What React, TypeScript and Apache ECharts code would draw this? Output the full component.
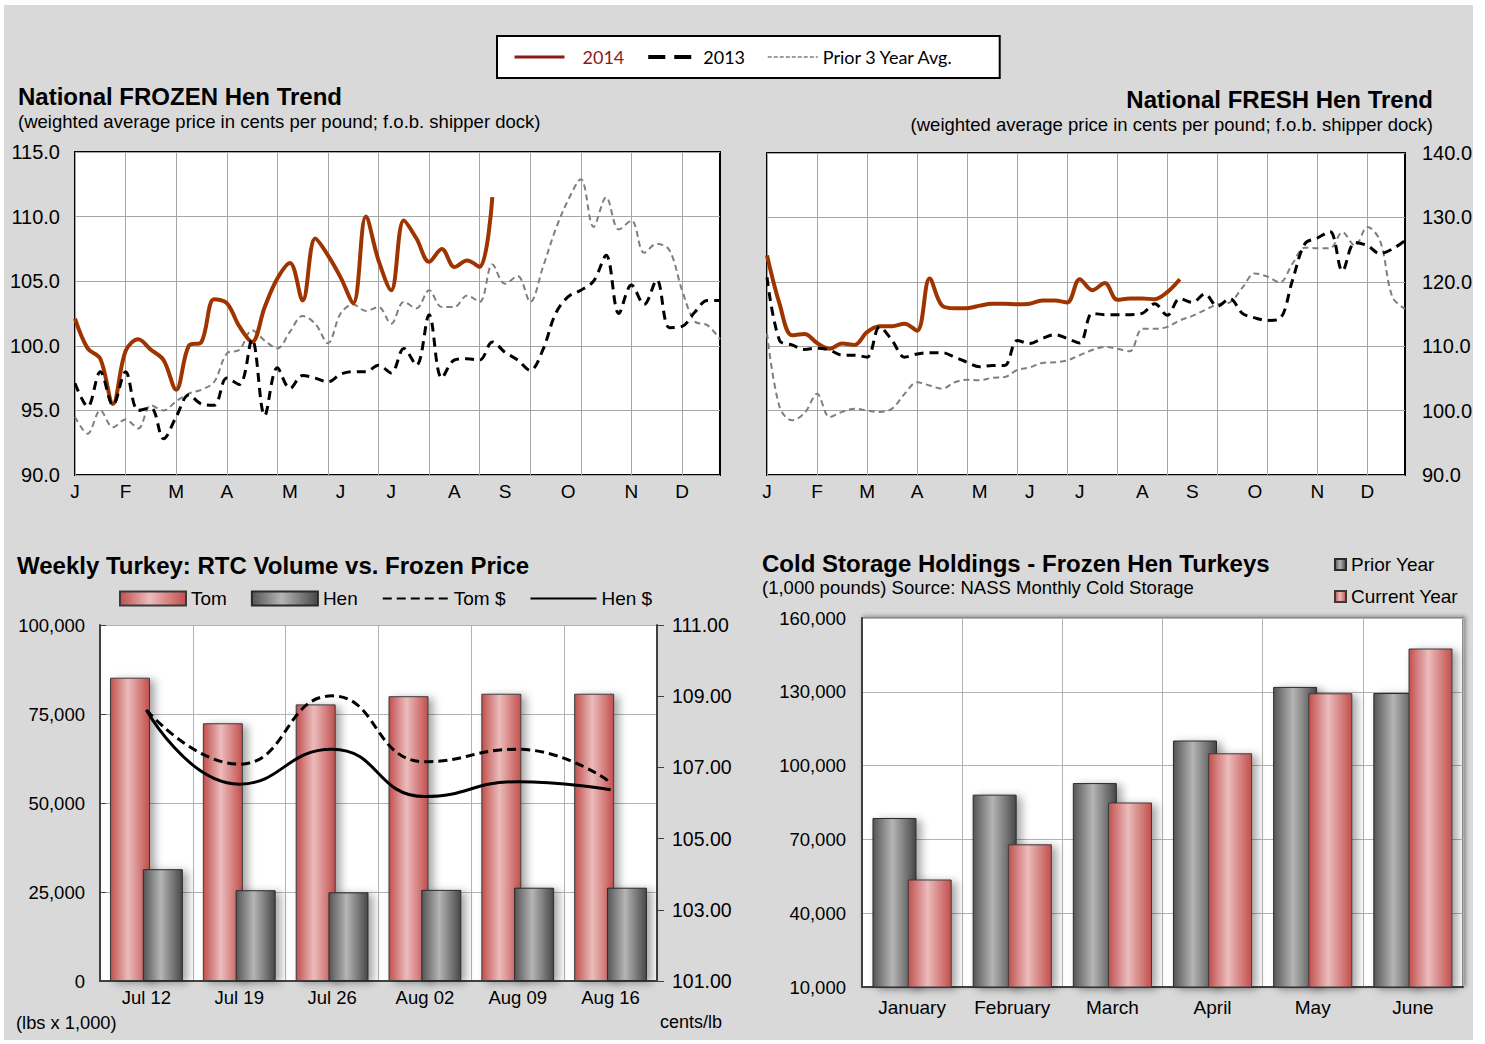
import React, { useEffect, useRef } from 'react';
import * as echarts from 'echarts';

// ---------- Top charts: weekly hen prices (52 weeks) ----------
const weeks: string[] = Array.from({ length: 52 }, (_, i) => `Wk ${i + 1}`);
const monthTickWeeks = [0, 4, 8, 12, 17, 21, 25, 30, 34, 39, 44, 48];
const monthLetters = ['J', 'F', 'M', 'A', 'M', 'J', 'J', 'A', 'S', 'O', 'N', 'D'];

const frozen2014 = [102.1, 99.8, 99.0, 95.5, 99.6, 100.5, 99.7, 98.9, 96.6, 100.0, 100.3, 103.6, 103.3, 101.5, 100.3, 103.0, 105.2, 106.4, 103.5, 108.3, 107.0, 105.3, 103.3, 110.0, 106.6, 104.3, 109.7, 108.3, 106.5, 107.5, 106.1, 106.6, 106.1, 111.5];
const frozen2013 = [97.1, 95.3, 98.0, 95.4, 98.0, 95.0, 95.2, 92.8, 94.5, 96.2, 95.5, 95.4, 97.5, 97.0, 100.5, 94.6, 98.3, 96.7, 97.7, 97.5, 97.2, 97.8, 98.0, 98.0, 98.5, 97.9, 99.8, 98.5, 102.4, 97.5, 98.9, 99.0, 98.9, 100.3, 99.5, 98.9, 98.1, 99.7, 102.5, 103.8, 104.3, 105.0, 107.0, 102.5, 104.7, 103.2, 105.1, 101.4, 101.5, 102.6, 103.5, 103.5];
const frozenPrior = [94.5, 93.2, 95.0, 93.7, 94.3, 93.6, 95.4, 95.0, 95.7, 96.3, 96.6, 97.2, 99.4, 99.7, 101.2, 100.4, 99.8, 101.1, 102.3, 101.7, 100.2, 102.5, 103.2, 102.7, 103.0, 101.7, 103.4, 102.9, 104.3, 103.0, 103.0, 103.9, 103.4, 106.3, 104.8, 105.4, 103.4, 106.1, 109.0, 111.3, 112.9, 109.2, 111.5, 109.0, 109.7, 107.2, 107.9, 107.4, 104.3, 101.9, 101.6, 100.5];

const fresh2014 = [124.1, 116.6, 111.7, 111.9, 110.5, 109.6, 110.4, 110.2, 112.2, 113.1, 113.1, 113.5, 112.4, 120.5, 116.3, 115.9, 115.9, 116.3, 116.6, 116.6, 116.5, 116.6, 117.1, 117.1, 116.8, 120.4, 118.7, 119.8, 117.2, 117.4, 117.4, 117.3, 118.4, 120.4];
const fresh2013 = [120.7, 110.9, 110.2, 109.5, 109.7, 109.4, 108.6, 108.6, 108.3, 113.0, 110.9, 108.3, 108.8, 109.0, 109.0, 108.3, 107.5, 106.8, 107.0, 107.0, 110.9, 110.4, 111.2, 111.8, 111.2, 110.5, 115.1, 114.9, 114.9, 114.9, 115.1, 116.6, 114.8, 117.4, 116.8, 118.1, 116.2, 117.4, 115.1, 114.4, 114.0, 114.3, 120.2, 125.9, 126.8, 127.8, 121.7, 126.1, 125.6, 124.4, 125.1, 126.4];
const freshPrior = [112.0, 100.6, 98.5, 99.6, 102.6, 99.0, 99.8, 100.3, 100.0, 99.8, 100.3, 102.6, 104.4, 103.9, 103.4, 104.4, 104.8, 104.7, 105.1, 105.2, 106.3, 106.7, 107.4, 107.5, 107.8, 108.6, 109.4, 109.9, 109.6, 109.2, 112.7, 112.7, 113.0, 114.0, 114.7, 115.6, 116.5, 116.8, 119.1, 121.3, 120.8, 119.9, 122.8, 125.3, 125.2, 125.2, 127.7, 125.6, 128.5, 126.4, 117.6, 115.8];

// ---------- Bottom-left: weekly RTC volume vs frozen price ----------
const weekDates = ['Jul 12', 'Jul 19', 'Jul 26', 'Aug 02', 'Aug 09', 'Aug 16'];
const tomVolume = [85200, 72400, 77700, 80000, 80700, 80700];
const henVolume = [31400, 25500, 24900, 25600, 26200, 26200];
const tomPrice = [108.61, 107.09, 109.01, 107.16, 107.51, 106.58];
const henPrice = [108.61, 106.53, 107.51, 106.18, 106.6, 106.37];

// ---------- Bottom-right: cold storage holdings ----------
const storageMonths = ['January', 'February', 'March', 'April', 'May', 'June'];
const priorYear = [78700, 88200, 92900, 110200, 132000, 129500];
const currentYear = [53700, 68000, 85000, 105000, 129400, 147600];

const FONT = '"Liberation Sans", Arial, sans-serif';
const GRID_LINE = '#a6a6a6';

const monthIndex: Record<number, string> = {};
monthTickWeeks.forEach((w, i) => { monthIndex[w] = monthLetters[i]; });

const redGrad = () => new echarts.graphic.LinearGradient(0, 0, 1, 0, [
  { offset: 0, color: '#c0504d' },
  { offset: 0.45, color: '#ebbcbc' },
  { offset: 1, color: '#c24f4c' },
]);
const greyGrad = () => new echarts.graphic.LinearGradient(0, 0, 1, 0, [
  { offset: 0, color: '#555555' },
  { offset: 0.45, color: '#b5b5b5' },
  { offset: 1, color: '#474747' },
]);

const fmtThousands = (v: number) => v.toLocaleString('en-US');
const noSymbol = { opacity: 0 };

function weekXAxis(gridIndex: number) {
  return {
    gridIndex,
    type: 'category',
    data: weeks,
    boundaryGap: false,
    axisLine: { show: false },
    axisTick: { show: false },
    axisLabel: {
      interval: (i: number) => monthIndex[i] !== undefined,
      formatter: (_v: string, i: number) => monthIndex[i] ?? '',
      fontSize: 19,
      color: '#000',
      margin: 7,
      fontFamily: FONT,
    },
    splitLine: { show: true, interval: (i: number) => i % 4 === 0, lineStyle: { color: GRID_LINE, width: 1 } },
  };
}

function priceLines(xi: number, yi: number, d14: number[], d13: number[], dPrior: number[]) {
  return [
    {
      name: 'Prior 3 Year Avg.', type: 'line', xAxisIndex: xi, yAxisIndex: yi, data: dPrior,
      smooth: 0.35, symbol: 'none', lineStyle: { color: '#7f7f7f', width: 2, type: [6, 4] }, itemStyle: { color: '#7f7f7f' },
    },
    {
      name: '2014', type: 'line', xAxisIndex: xi, yAxisIndex: yi, data: d14,
      smooth: 0.35, symbol: 'none', lineStyle: { color: '#9e3500', width: 4 }, itemStyle: { color: '#9e3500' },
    },
    {
      name: '2013', type: 'line', xAxisIndex: xi, yAxisIndex: yi, data: d13,
      smooth: 0.35, symbol: 'none', lineStyle: { color: '#000', width: 3, type: [9, 6] }, itemStyle: { color: '#000' },
    },
  ];
}

const titleStyle = (size: number) => ({ fontSize: size, fontWeight: 'bold', color: '#000', fontFamily: FONT });
const plainStyle = (size: number) => ({ fontSize: size, fontWeight: 'normal', color: '#000', fontFamily: FONT });

export default function App() {
  const ref = useRef<HTMLDivElement>(null);

  useEffect(() => {
    if (!ref.current) return;
    const chart = echarts.init(ref.current, null, { renderer: 'svg' });

    const option: any = {
      animation: false,
      backgroundColor: 'transparent',
      textStyle: { fontFamily: FONT, color: '#000' },
      title: [
        {
          text: 'National FROZEN Hen Trend',
          subtext: '(weighted average price in cents per pound; f.o.b. shipper dock)',
          left: 13, top: 79, itemGap: 4,
          textStyle: titleStyle(24),
          subtextStyle: plainStyle(18.5),
        },
        { text: 'National FRESH Hen Trend', right: 47, top: 82, textStyle: titleStyle(24) },
        { text: '(weighted average price in cents per pound; f.o.b. shipper dock)', right: 47, top: 110, textStyle: plainStyle(18.5) },
        { text: 'Weekly Turkey: RTC Volume vs. Frozen Price', left: 12, top: 548, textStyle: titleStyle(24) },
        {
          text: 'Cold Storage Holdings - Frozen Hen Turkeys',
          subtext: '(1,000 pounds) Source: NASS Monthly Cold Storage',
          left: 757, top: 546, itemGap: 3,
          textStyle: titleStyle(24),
          subtextStyle: plainStyle(18.5),
        },
        { text: '(lbs x 1,000)', left: 11, top: 1008, textStyle: plainStyle(18.3) },
        { text: 'cents/lb', right: 758, top: 1008, textStyle: plainStyle(18) },
      ],
      legend: [
        {
          data: [
            { name: '2014', lineStyle: { color: '#8b1a1a', width: 3 }, itemStyle: noSymbol, textStyle: { color: '#8b1a1a', padding: [0, 0, 0, 13] } },
            { name: '2013', lineStyle: { width: 4, type: [17, 9] }, itemStyle: noSymbol },
            { name: 'Prior 3 Year Avg.', lineStyle: { width: 1.5, type: [4, 2] }, itemStyle: noSymbol },
          ],
          left: 497, top: 36, padding: [12, 46, 12, 16],
          itemWidth: 50, itemHeight: 14, itemGap: 22,
          backgroundColor: '#fff', borderColor: '#000', borderWidth: 2,
          textStyle: { fontSize: 18, color: '#000', fontFamily: 'Lato, "Open Sans", sans-serif' },
        },
        {
          data: [
            { name: 'Tom', icon: 'rect' },
            { name: 'Hen', icon: 'rect' },
            { name: 'Tom $', itemStyle: noSymbol },
            { name: 'Hen $', itemStyle: noSymbol },
          ],
          left: 114, top: 584, itemWidth: 66, itemHeight: 14, itemGap: 24,
          textStyle: { fontSize: 19, color: '#000', fontFamily: FONT },
        },
        {
          data: [
            { name: 'Prior Year', icon: 'rect' },
            { name: 'Current Year', icon: 'rect' },
          ],
          orient: 'vertical', left: 1329, top: 550, itemWidth: 11, itemHeight: 11, itemGap: 13,
          textStyle: { fontSize: 19, color: '#000', fontFamily: FONT },
        },
      ],
      grid: [
        { left: 75, top: 152, width: 645, height: 323, show: true, backgroundColor: '#fff', borderColor: '#000', borderWidth: 2 },
        { left: 767, top: 153, width: 638, height: 322, show: true, backgroundColor: '#fff', borderColor: '#000', borderWidth: 2 },
        { left: 100, top: 625, width: 557, height: 356, show: true, backgroundColor: '#fff', borderWidth: 0 },
        {
          left: 862, top: 618, width: 601, height: 369, show: true, backgroundColor: '#fff',
          borderColor: '#8c8c8c', borderWidth: 2, shadowBlur: 4, shadowColor: 'rgba(0,0,0,0.35)', shadowOffsetX: 2, shadowOffsetY: -1,
        },
      ],
      xAxis: [
        weekXAxis(0),
        weekXAxis(1),
        {
          gridIndex: 2, type: 'category', data: weekDates, boundaryGap: true,
          axisLine: { show: true, lineStyle: { color: '#404040', width: 2 } },
          axisTick: { show: false },
          axisLabel: { fontSize: 18.5, color: '#000', margin: 7, fontFamily: FONT },
          splitLine: { show: true, interval: 0, lineStyle: { color: '#b3b3b3' } },
        },
        {
          gridIndex: 3, type: 'category', data: storageMonths, boundaryGap: true,
          axisLine: { show: true, lineStyle: { color: '#404040', width: 2 } },
          axisTick: { show: false },
          axisLabel: { fontSize: 19, color: '#000', margin: 11, fontFamily: FONT },
          splitLine: { show: true, interval: 0, lineStyle: { color: '#b3b3b3' } },
        },
      ],
      yAxis: [
        {
          gridIndex: 0, type: 'value', min: 90, max: 115, interval: 5, position: 'left',
          axisLine: { show: false }, axisTick: { show: false },
          axisLabel: { formatter: (v: number) => v.toFixed(1), fontSize: 20, color: '#000', margin: 15, fontFamily: FONT },
          splitLine: { show: true, lineStyle: { color: GRID_LINE } },
        },
        {
          gridIndex: 1, type: 'value', min: 90, max: 140, interval: 10, position: 'right',
          axisLine: { show: false }, axisTick: { show: false },
          axisLabel: { formatter: (v: number) => v.toFixed(1), fontSize: 20, color: '#000', margin: 17, fontFamily: FONT },
          splitLine: { show: true, lineStyle: { color: GRID_LINE } },
        },
        {
          gridIndex: 2, type: 'value', min: 0, max: 100000, interval: 25000, position: 'left',
          axisLine: { show: true, lineStyle: { color: '#404040', width: 2 } },
          axisTick: { show: true, inside: true, length: 6, lineStyle: { color: '#404040' } },
          axisLabel: { formatter: fmtThousands, fontSize: 18.5, color: '#000', margin: 15, fontFamily: FONT },
          splitLine: { show: true, lineStyle: { color: '#b3b3b3' } },
        },
        {
          gridIndex: 2, type: 'value', min: 101, max: 111, interval: 2, position: 'right',
          axisLine: { show: true, lineStyle: { color: '#404040', width: 2 } },
          axisTick: { show: true, length: 7, lineStyle: { color: '#404040' } },
          axisLabel: { formatter: (v: number) => v.toFixed(2), fontSize: 19.5, color: '#000', margin: 15, fontFamily: FONT },
          splitLine: { show: false },
        },
        {
          gridIndex: 3, type: 'value', min: 10000, max: 160000, interval: 30000, position: 'left',
          axisLine: { show: true, lineStyle: { color: '#404040', width: 2 } },
          axisTick: { show: false },
          axisLabel: { formatter: fmtThousands, fontSize: 18.5, color: '#000', margin: 16, fontFamily: FONT },
          splitLine: { show: true, lineStyle: { color: '#b3b3b3' } },
        },
      ],
      series: [
        ...priceLines(0, 0, frozen2014, frozen2013, frozenPrior),
        ...priceLines(1, 1, fresh2014, fresh2013, freshPrior),
        {
          name: 'Tom', type: 'bar', xAxisIndex: 2, yAxisIndex: 2, data: tomVolume,
          barWidth: 40, barGap: '-18%',
          itemStyle: { color: redGrad(), borderColor: '#3a3a3a', borderWidth: 1, shadowBlur: 8, shadowColor: 'rgba(0,0,0,0.35)', shadowOffsetX: 5, shadowOffsetY: 2 },
        },
        {
          name: 'Hen', type: 'bar', xAxisIndex: 2, yAxisIndex: 2, data: henVolume,
          barWidth: 40, barGap: '-18%',
          itemStyle: { color: greyGrad(), borderColor: '#2a2a2a', borderWidth: 1, shadowBlur: 8, shadowColor: 'rgba(0,0,0,0.35)', shadowOffsetX: 5, shadowOffsetY: 2 },
        },
        {
          name: 'Tom $', type: 'line', xAxisIndex: 2, yAxisIndex: 3, data: tomPrice,
          smooth: 0.5, symbol: 'none', z: 5,
          lineStyle: { color: '#000', width: 3, type: [9, 5] }, itemStyle: { color: '#000' },
        },
        {
          name: 'Hen $', type: 'line', xAxisIndex: 2, yAxisIndex: 3, data: henPrice,
          smooth: 0.5, symbol: 'none', z: 5,
          lineStyle: { color: '#000', width: 3 }, itemStyle: { color: '#000' },
        },
        {
          name: 'Prior Year', type: 'bar', xAxisIndex: 3, yAxisIndex: 4, data: priorYear,
          barWidth: 44, barGap: '-20%',
          itemStyle: { color: greyGrad(), borderColor: '#2a2a2a', borderWidth: 1, shadowBlur: 8, shadowColor: 'rgba(0,0,0,0.35)', shadowOffsetX: 5, shadowOffsetY: 2 },
        },
        {
          name: 'Current Year', type: 'bar', xAxisIndex: 3, yAxisIndex: 4, data: currentYear,
          barWidth: 44, barGap: '-20%',
          itemStyle: { color: redGrad(), borderColor: '#3a3a3a', borderWidth: 1, shadowBlur: 8, shadowColor: 'rgba(0,0,0,0.35)', shadowOffsetX: 5, shadowOffsetY: 2 },
        },
      ],
    };

    chart.setOption(option);
    return () => chart.dispose();
  }, []);

  return (
    <div style={{ position: 'absolute', left: 0, top: 0, width: 1485, height: 1044, background: '#fff' }}>
      <div style={{ position: 'absolute', left: 4, top: 5, width: 1469, height: 1035, background: '#d9d9d9' }} />
      <div ref={ref} style={{ position: 'absolute', left: 0, top: 0, width: 1485, height: 1044 }} />
    </div>
  );
}
